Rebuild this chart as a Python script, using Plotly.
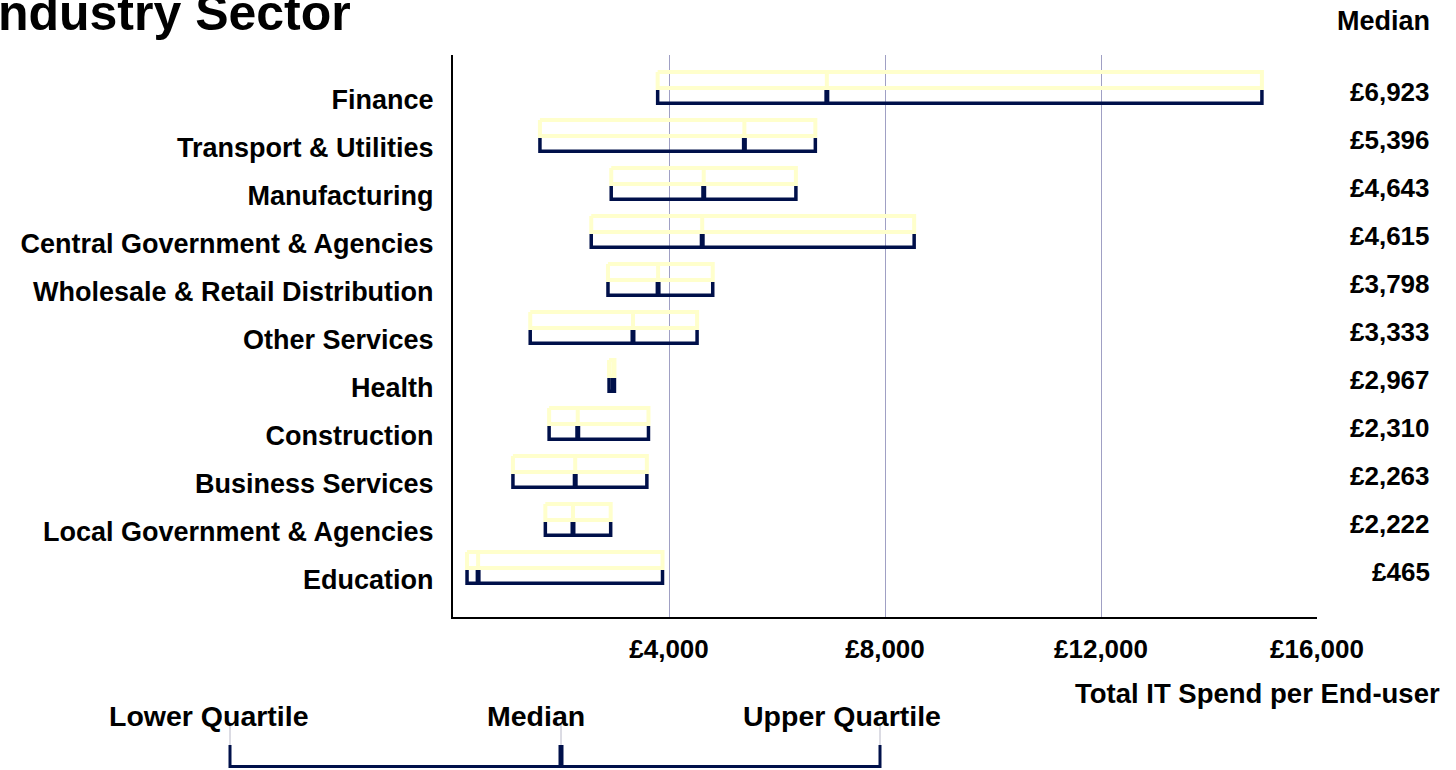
import plotly.graph_objects as go

# IT spend per end-user by industry sector (GBP): quartiles and median
sectors = [
    "Finance", "Transport & Utilities", "Manufacturing",
    "Central Government & Agencies", "Wholesale & Retail Distribution",
    "Other Services", "Health", "Construction", "Business Services",
    "Local Government & Agencies", "Education",
]
lower_quartile = [3790, 1610, 2930, 2560, 2870, 1430, 2890, 1780, 1110, 1710, 260]
median = [6923, 5396, 4643, 4615, 3798, 3333, 2967, 2310, 2263, 2222, 465]
upper_quartile = [14980, 6710, 6350, 8540, 4810, 4520, 2990, 3620, 3590, 2920, 3880]

x_ticks = [4000, 8000, 12000, 16000]
x_tick_text = ["£4,000", "£8,000", "£12,000", "£16,000"]

FONT = "Liberation Sans, Arial, sans-serif"
NAVY = "#00104A"
PALE = "#FFFFCC"

# vertical offsets (in category units) of the box parts around each category row
BOX_TOP, BOX_BOT = -0.583, -0.25
TICK_TOP, BASE = -0.208, 0.066

yellow_x, yellow_y = [], []
navy_x, navy_y = [], []
med_x, med_y = [], []
for i, (lq, md, uq) in enumerate(zip(lower_quartile, median, upper_quartile)):
    yellow_x += [lq, uq, uq, lq, lq, None, md, md, None]
    yellow_y += [i + BOX_TOP, i + BOX_TOP, i + BOX_BOT, i + BOX_BOT, i + BOX_TOP, None,
                 i + BOX_TOP, i + BOX_BOT, None]
    navy_x += [lq, lq, uq, uq, None]
    navy_y += [i + TICK_TOP, i + BASE, i + BASE, i + TICK_TOP, None]
    med_x += [md, md, None]
    med_y += [i + TICK_TOP, i + BASE, None]

fig = go.Figure()
fig.add_trace(go.Scatter(x=yellow_x, y=yellow_y, mode="lines",
                         line=dict(color=PALE, width=4), hoverinfo="skip"))
fig.add_trace(go.Scatter(x=navy_x, y=navy_y, mode="lines",
                         line=dict(color=NAVY, width=3.5), hoverinfo="skip"))
fig.add_trace(go.Scatter(x=med_x, y=med_y, mode="lines",
                         line=dict(color=NAVY, width=5), hoverinfo="skip"))


def px_x(px):
    return (px - 453) / 864


def px_y(py):
    return (617 - py) / 562


def bold(size):
    return dict(family=FONT, size=size, color="black", weight="bold")


annotations = []
# median values column
for i, md in enumerate(median):
    annotations.append(dict(
        xref="paper", yref="y", x=px_x(1432), y=i - 0.17, xanchor="right", yanchor="middle",
        text=f"£{md:,}", showarrow=False, font=bold(26)))
annotations.append(dict(
    xref="paper", yref="paper", x=px_x(1383), y=px_y(21), xanchor="center", yanchor="middle",
    text="Median", showarrow=False, font=bold(27)))
annotations.append(dict(
    xref="paper", yref="paper", x=px_x(1442), y=px_y(693), xanchor="right", yanchor="middle",
    text="Total IT Spend per End-user", showarrow=False, font=bold(27.5)))
annotations.append(dict(
    xref="paper", yref="paper", x=px_x(353), y=px_y(13), xanchor="right", yanchor="middle",
    text="Industry Sector", showarrow=False, font=bold(50)))

# key explaining the bracket
key_labels = [("Lower Quartile", 209), ("Median", 536), ("Upper Quartile", 842)]
for txt, px in key_labels:
    annotations.append(dict(
        xref="paper", yref="paper", x=px_x(px), y=px_y(716),
        xanchor="center", yanchor="middle", text=txt, showarrow=False, font=bold(28.5)))

shapes = []
for px in (230, 561, 880):
    shapes.append(dict(type="line", xref="paper", yref="paper",
                       x0=px_x(px), x1=px_x(px), y0=px_y(724), y1=px_y(745),
                       line=dict(color="#B8B8C8", width=1)))
for px, w in ((230, 3), (561, 5), (880, 3)):
    shapes.append(dict(type="line", xref="paper", yref="paper",
                       x0=px_x(px), x1=px_x(px), y0=px_y(745), y1=px_y(768),
                       line=dict(color=NAVY, width=w)))
shapes.append(dict(type="line", xref="paper", yref="paper",
                   x0=px_x(230), x1=px_x(880), y0=px_y(766.5), y1=px_y(766.5),
                   line=dict(color=NAVY, width=3)))

fig.update_layout(
    width=1456, height=770, autosize=False,
    margin=dict(l=453, r=139, t=55, b=153),
    paper_bgcolor="white", plot_bgcolor="white",
    showlegend=False,
    xaxis=dict(range=[0, 16000], tickvals=x_ticks, ticktext=x_tick_text,
               showgrid=True, gridcolor="#A0A0C4", gridwidth=1, zeroline=False,
               showline=True, linecolor="black", linewidth=2, ticks="",
               ticklabelstandoff=8, tickfont=bold(26)),
    yaxis=dict(range=[10.771, -0.9375], tickvals=list(range(len(sectors))),
               ticktext=sectors, showgrid=False, zeroline=False,
               showline=True, linecolor="black", linewidth=2, ticks="",
               ticklabelstandoff=12, tickfont=bold(27)),
    annotations=annotations,
    shapes=shapes,
)

fig.write_html("out.html")
